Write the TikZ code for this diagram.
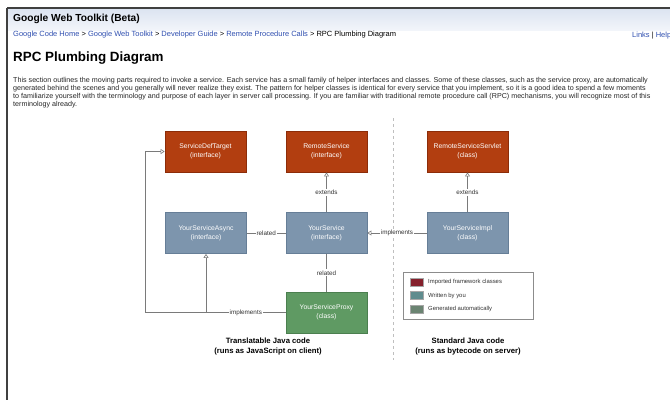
\documentclass[tikz,border=0pt]{standalone}
\usepackage{fontspec}
\setmainfont{Liberation Sans}
\usetikzlibrary{arrows.meta}
\definecolor{gwtorange}{HTML}{B23E10}
\definecolor{gwtorangeb}{HTML}{8C2C08}
\definecolor{gwtblue}{HTML}{7D95AD}
\definecolor{gwtblueb}{HTML}{667E97}
\definecolor{gwtgreen}{HTML}{5F9A63}
\definecolor{gwtgreenb}{HTML}{4B7F4F}
\definecolor{linkblue}{HTML}{2F4FB0}
\definecolor{connc}{HTML}{7A7A7A}
\definecolor{legA}{HTML}{85202C}
\definecolor{legB}{HTML}{5F8C8E}
\definecolor{legC}{HTML}{6B8472}
\definecolor{bandtop}{HTML}{DCE4F1}
\definecolor{bandbot}{HTML}{F2F5FA}
\tikzset{
  box/.style={draw, line width=0.8pt, minimum width=81pt, minimum height=41pt, inner sep=0pt,
    align=center, text=white, font=\fontsize{6.8}{9}\selectfont},
  orangebox/.style={box, fill=gwtorange, draw=gwtorangeb},
  bluebox/.style={box, fill=gwtblue, draw=gwtblueb},
  greenbox/.style={box, fill=gwtgreen, draw=gwtgreenb},
  conn/.style={draw=connc, line width=0.6pt},
  inh/.style={conn, -{Triangle[open, width=5pt, length=4pt]}},
  lbl/.style={fill=white, inner sep=1pt, text=black!80, font=\fontsize{6.3}{7}\selectfont},
  swatch/.style={draw=gray!70, minimum width=13pt, minimum height=8pt, inner sep=0pt},
  legtxt/.style={anchor=west, inner sep=0pt, text=black!80, font=\fontsize{5.9}{7}\selectfont},
  caption/.style={align=center, inner sep=0pt, font=\bfseries\fontsize{7.7}{9.2}\selectfont},
  para/.style={anchor=north west, align=left, inner sep=0pt, text=black!85, font=\fontsize{7.15}{8}\selectfont}
}
\begin{document}
\begin{tikzpicture}[x=1pt,y=-1pt]
\useasboundingbox (0,0) rectangle (670,400);
\fill[white] (0,0) rectangle (670,400);
% header band
\shade[top color=bandtop, bottom color=bandbot] (7,9) rectangle (670,30);
\draw[black!75, line width=1.4pt] (7,8) -- (670,8);
\draw[black!75, line width=1.4pt] (7,8) -- (7,400);
\node[anchor=west, inner sep=0pt, font=\bfseries\fontsize{10.2}{12}\selectfont] (hdr) at (13,18.5) {Google Web Toolkit (Beta)};
\node[anchor=west, inner sep=0pt, font=\fontsize{7.5}{9}\selectfont] (crumb) at (13,35)
  {\textcolor{linkblue}{Google Code Home} \textgreater{} \textcolor{linkblue}{Google Web Toolkit} \textgreater{} \textcolor{linkblue}{Developer Guide} \textgreater{} \textcolor{linkblue}{Remote Procedure Calls} \textgreater{} RPC Plumbing Diagram};
\node[anchor=west, inner sep=0pt, font=\fontsize{7.5}{9}\selectfont, text=linkblue] (links) at (632,36) {Links \textcolor{black}{|} Help};
\node[anchor=west, inner sep=0pt, font=\bfseries\fontsize{13.4}{15}\selectfont] (title) at (13,58.5) {RPC Plumbing Diagram};
\node[para] (intro) at (13,77) {This section outlines the moving parts required to invoke a service. Each service has a small family of helper interfaces and classes. Some of these classes, such as the service proxy, are automatically\\
generated behind the scenes and you generally will never realize they exist. The pattern for helper classes is identical for every service that you implement, so it is a good idea to spend a few moments\\
to familiarize yourself with the terminology and purpose of each layer in server call processing. If you are familiar with traditional remote procedure call (RPC) mechanisms, you will recognize most of this\\
terminology already.};
% divider
\draw[dashed, black!25, line width=0.6pt] (393,118) -- (393,360);
% boxes
\node[orangebox] (sdt) at (205.5,151.5) {ServiceDefTarget\\(interface)};
\node[orangebox] (rs) at (326.5,151.5) {RemoteService\\(interface)};
\node[orangebox] (rss) at (467.5,151.5) {RemoteServiceServlet\\(class)};
\node[bluebox] (ysa) at (206,233) {YourServiceAsync\\(interface)};
\node[bluebox] (ys) at (326.5,233) {YourService\\(interface)};
\node[bluebox] (ysi) at (467.5,233) {YourServiceImpl\\(class)};
\node[greenbox] (ysp) at (326.5,312.5) {YourServiceProxy\\(class)};
% connectors
\draw[inh] (ys.north) -- node[lbl]{extends} (rs.south);
\draw[inh] (ysi.north) -- node[lbl]{extends} (rss.south);
\draw[inh] (ysi.west) -- node[lbl]{implements} (ys.east);
\draw[conn] (ysa.east) -- node[lbl]{related} (ys.west);
\draw[conn] (ys.south) -- node[lbl]{related} (ysp.north);
\coordinate (jn) at (206,312.5);
\coordinate (corner) at (145,312.5);
\draw[conn] (ysp.west) -- node[lbl]{implements} (jn);
\draw[inh] (jn) -- (ysa.south);
\draw[inh] (jn) -- (corner) |- (sdt.west);
% legend
\node[draw=black!45, line width=0.6pt, minimum width=130pt, minimum height=47pt, inner sep=0pt] (legend) at (468,295.5) {};
\node[swatch, fill=legA] (sw1) at (416.5,282) {};
\node[swatch, fill=legB] (sw2) at (416.5,295.5) {};
\node[swatch, fill=legC] (sw3) at (416.5,309) {};
\node[legtxt] (lt1) at (428,282) {Imported framework classes};
\node[legtxt] (lt2) at (428,295.5) {Written by you};
\node[legtxt] (lt3) at (428,309) {Generated automatically};
% captions
\node[caption] (capl) at (268,346.5) {Translatable Java code\\(runs as JavaScript on client)};
\node[caption] (capr) at (468,346.5) {Standard Java code\\(runs as bytecode on server)};
\end{tikzpicture}
\end{document}
